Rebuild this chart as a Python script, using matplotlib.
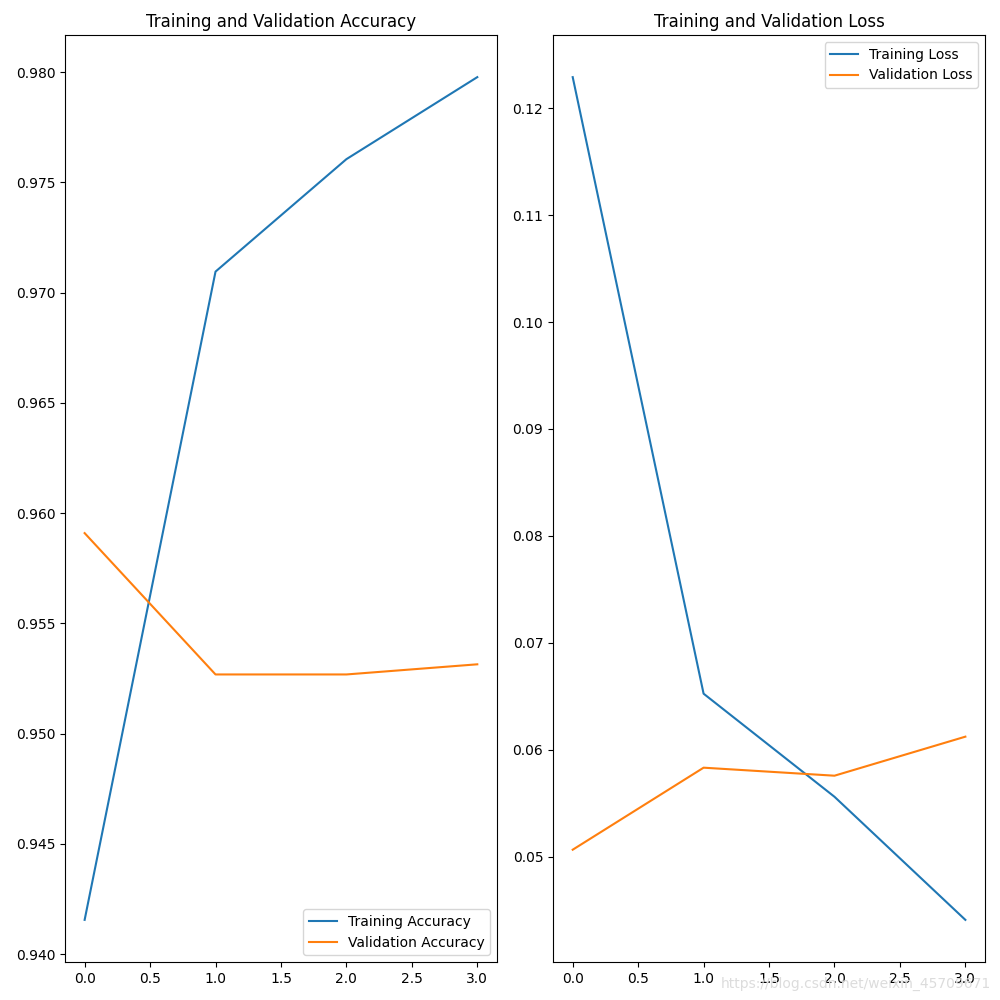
import matplotlib
matplotlib.use("Agg")
import matplotlib.pyplot as plt

epochs = [0, 1, 2, 3]
train_acc = [0.94155, 0.97095, 0.97605, 0.97977]
val_acc = [0.95909, 0.95268, 0.95268, 0.95314]
train_loss = [0.1229, 0.06525, 0.05561, 0.0441]
val_loss = [0.05066, 0.05833, 0.05758, 0.06123]

fig = plt.figure(figsize=(10, 10), dpi=100)
ax1 = fig.add_subplot(1, 2, 1)
ax1.plot(epochs, train_acc, label='Training Accuracy')
ax1.plot(epochs, val_acc, label='Validation Accuracy')
ax1.legend(loc='lower right')
ax1.set_title('Training and Validation Accuracy')

ax2 = fig.add_subplot(1, 2, 2)
ax2.plot(epochs, train_loss, label='Training Loss')
ax2.plot(epochs, val_loss, label='Validation Loss')
ax2.legend(loc='upper right')
ax2.set_title('Training and Validation Loss')

fig.subplots_adjust(left=0.065, right=0.985, bottom=0.038, top=0.965, wspace=0.13)
fig.text(0.991, 0.009, 'https://blog.csdn.net/weixin_45709671', ha='right', va='bottom',
         color='#dcdcdc', fontsize=10)
fig.savefig('out.png', dpi=100)
